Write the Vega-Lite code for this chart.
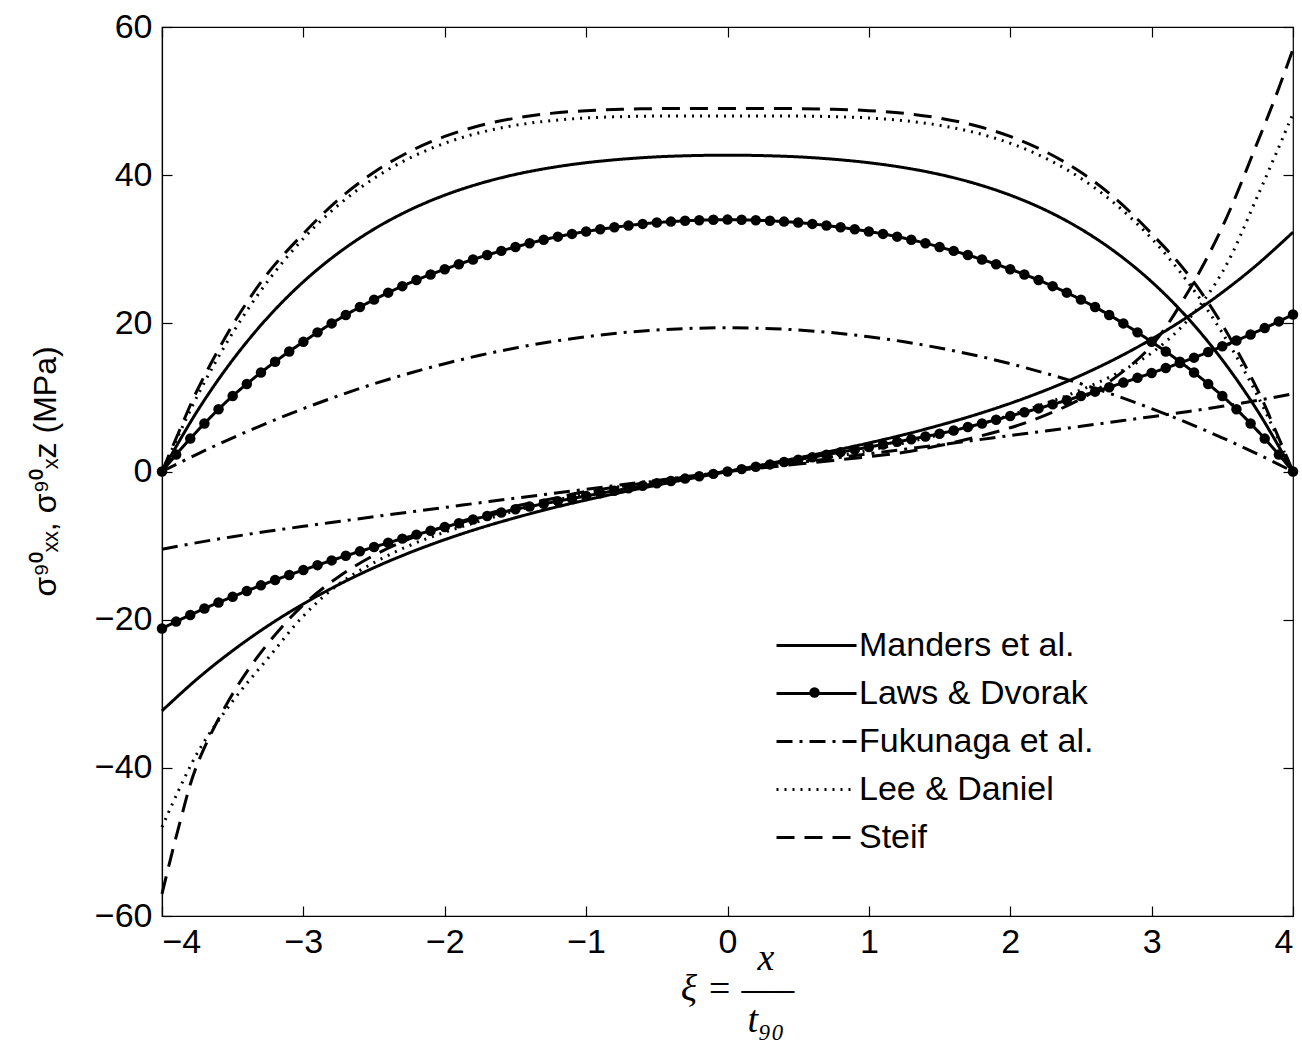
{
"$schema":"https://vega.github.io/schema/vega-lite/v6.json",
"width":1131,"height":889,
"autosize":{"type":"none"},
"padding":{"left":162,"top":27,"right":9,"bottom":132},
"background":"white",
"config":{
 "view":{"stroke":"black","strokeWidth":1.2},
 "axis":{"grid":false,"domainColor":"black","domainWidth":1.2,"tickColor":"black","tickWidth":1.2,"tickSize":-10,"labelColor":"black","titleColor":"black","labelFont":"Liberation Sans","labelFontSize":34,"labelFontWeight":"normal","titleFontWeight":"normal"}
},
"data":{"values":[
{"m":"Manders et al.","c":"xx","x":-4,"y":0},{"m":"Manders et al.","c":"xx","x":-3.75,"y":8.17},{"m":"Manders et al.","c":"xx","x":-3.5,"y":15.06},{"m":"Manders et al.","c":"xx","x":-3.25,"y":20.83},{"m":"Manders et al.","c":"xx","x":-3,"y":25.61},{"m":"Manders et al.","c":"xx","x":-2.75,"y":29.53},{"m":"Manders et al.","c":"xx","x":-2.5,"y":32.72},{"m":"Manders et al.","c":"xx","x":-2.25,"y":35.28},{"m":"Manders et al.","c":"xx","x":-2,"y":37.3},{"m":"Manders et al.","c":"xx","x":-1.75,"y":38.88},{"m":"Manders et al.","c":"xx","x":-1.5,"y":40.1},{"m":"Manders et al.","c":"xx","x":-1.25,"y":41.01},{"m":"Manders et al.","c":"xx","x":-1,"y":41.68},{"m":"Manders et al.","c":"xx","x":-0.75,"y":42.15},{"m":"Manders et al.","c":"xx","x":-0.5,"y":42.47},{"m":"Manders et al.","c":"xx","x":-0.25,"y":42.64},{"m":"Manders et al.","c":"xx","x":0,"y":42.7},{"m":"Manders et al.","c":"xx","x":0.25,"y":42.64},{"m":"Manders et al.","c":"xx","x":0.5,"y":42.47},{"m":"Manders et al.","c":"xx","x":0.75,"y":42.15},{"m":"Manders et al.","c":"xx","x":1,"y":41.68},{"m":"Manders et al.","c":"xx","x":1.25,"y":41.01},{"m":"Manders et al.","c":"xx","x":1.5,"y":40.1},{"m":"Manders et al.","c":"xx","x":1.75,"y":38.88},{"m":"Manders et al.","c":"xx","x":2,"y":37.3},{"m":"Manders et al.","c":"xx","x":2.25,"y":35.28},{"m":"Manders et al.","c":"xx","x":2.5,"y":32.72},{"m":"Manders et al.","c":"xx","x":2.75,"y":29.53},{"m":"Manders et al.","c":"xx","x":3,"y":25.61},{"m":"Manders et al.","c":"xx","x":3.25,"y":20.83},{"m":"Manders et al.","c":"xx","x":3.5,"y":15.06},{"m":"Manders et al.","c":"xx","x":3.75,"y":8.17},{"m":"Manders et al.","c":"xx","x":4,"y":0},
{"m":"Manders et al.","c":"xz","x":-4,"y":-32.3},{"m":"Manders et al.","c":"xz","x":-3.75,"y":-27.98},{"m":"Manders et al.","c":"xz","x":-3.5,"y":-24.18},{"m":"Manders et al.","c":"xz","x":-3.25,"y":-20.82},{"m":"Manders et al.","c":"xz","x":-3,"y":-17.87},{"m":"Manders et al.","c":"xz","x":-2.75,"y":-15.27},{"m":"Manders et al.","c":"xz","x":-2.5,"y":-12.98},{"m":"Manders et al.","c":"xz","x":-2.25,"y":-10.97},{"m":"Manders et al.","c":"xz","x":-2,"y":-9.2},{"m":"Manders et al.","c":"xz","x":-1.75,"y":-7.63},{"m":"Manders et al.","c":"xz","x":-1.5,"y":-6.24},{"m":"Manders et al.","c":"xz","x":-1.25,"y":-4.98},{"m":"Manders et al.","c":"xz","x":-1,"y":-3.85},{"m":"Manders et al.","c":"xz","x":-0.75,"y":-2.81},{"m":"Manders et al.","c":"xz","x":-0.5,"y":-1.84},{"m":"Manders et al.","c":"xz","x":-0.25,"y":-0.91},{"m":"Manders et al.","c":"xz","x":0,"y":0},{"m":"Manders et al.","c":"xz","x":0.25,"y":0.91},{"m":"Manders et al.","c":"xz","x":0.5,"y":1.84},{"m":"Manders et al.","c":"xz","x":0.75,"y":2.81},{"m":"Manders et al.","c":"xz","x":1,"y":3.85},{"m":"Manders et al.","c":"xz","x":1.25,"y":4.98},{"m":"Manders et al.","c":"xz","x":1.5,"y":6.24},{"m":"Manders et al.","c":"xz","x":1.75,"y":7.63},{"m":"Manders et al.","c":"xz","x":2,"y":9.2},{"m":"Manders et al.","c":"xz","x":2.25,"y":10.97},{"m":"Manders et al.","c":"xz","x":2.5,"y":12.98},{"m":"Manders et al.","c":"xz","x":2.75,"y":15.27},{"m":"Manders et al.","c":"xz","x":3,"y":17.87},{"m":"Manders et al.","c":"xz","x":3.25,"y":20.82},{"m":"Manders et al.","c":"xz","x":3.5,"y":24.18},{"m":"Manders et al.","c":"xz","x":3.75,"y":27.98},{"m":"Manders et al.","c":"xz","x":4,"y":32.3},
{"m":"Fukunaga et al.","c":"xx","x":-4,"y":0},{"m":"Fukunaga et al.","c":"xx","x":-3.75,"y":2.35},{"m":"Fukunaga et al.","c":"xx","x":-3.5,"y":4.55},{"m":"Fukunaga et al.","c":"xx","x":-3.25,"y":6.59},{"m":"Fukunaga et al.","c":"xx","x":-3,"y":8.49},{"m":"Fukunaga et al.","c":"xx","x":-2.75,"y":10.23},{"m":"Fukunaga et al.","c":"xx","x":-2.5,"y":11.84},{"m":"Fukunaga et al.","c":"xx","x":-2.25,"y":13.26},{"m":"Fukunaga et al.","c":"xx","x":-2,"y":14.55},{"m":"Fukunaga et al.","c":"xx","x":-1.75,"y":15.69},{"m":"Fukunaga et al.","c":"xx","x":-1.5,"y":16.67},{"m":"Fukunaga et al.","c":"xx","x":-1.25,"y":17.51},{"m":"Fukunaga et al.","c":"xx","x":-1,"y":18.19},{"m":"Fukunaga et al.","c":"xx","x":-0.75,"y":18.72},{"m":"Fukunaga et al.","c":"xx","x":-0.5,"y":19.1},{"m":"Fukunaga et al.","c":"xx","x":-0.25,"y":19.32},{"m":"Fukunaga et al.","c":"xx","x":0,"y":19.4},{"m":"Fukunaga et al.","c":"xx","x":0.25,"y":19.32},{"m":"Fukunaga et al.","c":"xx","x":0.5,"y":19.1},{"m":"Fukunaga et al.","c":"xx","x":0.75,"y":18.72},{"m":"Fukunaga et al.","c":"xx","x":1,"y":18.19},{"m":"Fukunaga et al.","c":"xx","x":1.25,"y":17.51},{"m":"Fukunaga et al.","c":"xx","x":1.5,"y":16.67},{"m":"Fukunaga et al.","c":"xx","x":1.75,"y":15.69},{"m":"Fukunaga et al.","c":"xx","x":2,"y":14.55},{"m":"Fukunaga et al.","c":"xx","x":2.25,"y":13.26},{"m":"Fukunaga et al.","c":"xx","x":2.5,"y":11.84},{"m":"Fukunaga et al.","c":"xx","x":2.75,"y":10.23},{"m":"Fukunaga et al.","c":"xx","x":3,"y":8.49},{"m":"Fukunaga et al.","c":"xx","x":3.25,"y":6.59},{"m":"Fukunaga et al.","c":"xx","x":3.5,"y":4.55},{"m":"Fukunaga et al.","c":"xx","x":3.75,"y":2.35},{"m":"Fukunaga et al.","c":"xx","x":4,"y":0},
{"m":"Fukunaga et al.","c":"xz","x":-4,"y":-10.5},{"m":"Fukunaga et al.","c":"xz","x":-3.75,"y":-9.6},{"m":"Fukunaga et al.","c":"xz","x":-3.5,"y":-8.8},{"m":"Fukunaga et al.","c":"xz","x":-3.25,"y":-8.08},{"m":"Fukunaga et al.","c":"xz","x":-3,"y":-7.4},{"m":"Fukunaga et al.","c":"xz","x":-2.75,"y":-6.75},{"m":"Fukunaga et al.","c":"xz","x":-2.5,"y":-6.1},{"m":"Fukunaga et al.","c":"xz","x":-2.25,"y":-5.47},{"m":"Fukunaga et al.","c":"xz","x":-2,"y":-4.85},{"m":"Fukunaga et al.","c":"xz","x":-1.75,"y":-4.22},{"m":"Fukunaga et al.","c":"xz","x":-1.5,"y":-3.6},{"m":"Fukunaga et al.","c":"xz","x":-1.25,"y":-3.0},{"m":"Fukunaga et al.","c":"xz","x":-1,"y":-2.4},{"m":"Fukunaga et al.","c":"xz","x":-0.75,"y":-1.8},{"m":"Fukunaga et al.","c":"xz","x":-0.5,"y":-1.2},{"m":"Fukunaga et al.","c":"xz","x":-0.25,"y":-0.6},{"m":"Fukunaga et al.","c":"xz","x":0,"y":0},{"m":"Fukunaga et al.","c":"xz","x":0.25,"y":0.6},{"m":"Fukunaga et al.","c":"xz","x":0.5,"y":1.2},{"m":"Fukunaga et al.","c":"xz","x":0.75,"y":1.8},{"m":"Fukunaga et al.","c":"xz","x":1,"y":2.4},{"m":"Fukunaga et al.","c":"xz","x":1.25,"y":3.0},{"m":"Fukunaga et al.","c":"xz","x":1.5,"y":3.6},{"m":"Fukunaga et al.","c":"xz","x":1.75,"y":4.22},{"m":"Fukunaga et al.","c":"xz","x":2,"y":4.85},{"m":"Fukunaga et al.","c":"xz","x":2.25,"y":5.47},{"m":"Fukunaga et al.","c":"xz","x":2.5,"y":6.1},{"m":"Fukunaga et al.","c":"xz","x":2.75,"y":6.75},{"m":"Fukunaga et al.","c":"xz","x":3,"y":7.4},{"m":"Fukunaga et al.","c":"xz","x":3.25,"y":8.08},{"m":"Fukunaga et al.","c":"xz","x":3.5,"y":8.8},{"m":"Fukunaga et al.","c":"xz","x":3.75,"y":9.6},{"m":"Fukunaga et al.","c":"xz","x":4,"y":10.5},
{"m":"Lee & Daniel","c":"xx","x":-4,"y":0},{"m":"Lee & Daniel","c":"xx","x":-3.75,"y":10.2},{"m":"Lee & Daniel","c":"xx","x":-3.5,"y":18.71},{"m":"Lee & Daniel","c":"xx","x":-3.25,"y":25.73},{"m":"Lee & Daniel","c":"xx","x":-3,"y":31.44},{"m":"Lee & Daniel","c":"xx","x":-2.75,"y":36.0},{"m":"Lee & Daniel","c":"xx","x":-2.5,"y":39.57},{"m":"Lee & Daniel","c":"xx","x":-2.25,"y":42.29},{"m":"Lee & Daniel","c":"xx","x":-2,"y":44.31},{"m":"Lee & Daniel","c":"xx","x":-1.75,"y":45.75},{"m":"Lee & Daniel","c":"xx","x":-1.5,"y":46.73},{"m":"Lee & Daniel","c":"xx","x":-1.25,"y":47.35},{"m":"Lee & Daniel","c":"xx","x":-1,"y":47.72},{"m":"Lee & Daniel","c":"xx","x":-0.75,"y":47.9},{"m":"Lee & Daniel","c":"xx","x":-0.5,"y":47.98},{"m":"Lee & Daniel","c":"xx","x":-0.25,"y":48.0},{"m":"Lee & Daniel","c":"xx","x":0,"y":48.0},{"m":"Lee & Daniel","c":"xx","x":0.25,"y":48.0},{"m":"Lee & Daniel","c":"xx","x":0.5,"y":47.98},{"m":"Lee & Daniel","c":"xx","x":0.75,"y":47.9},{"m":"Lee & Daniel","c":"xx","x":1,"y":47.72},{"m":"Lee & Daniel","c":"xx","x":1.25,"y":47.35},{"m":"Lee & Daniel","c":"xx","x":1.5,"y":46.73},{"m":"Lee & Daniel","c":"xx","x":1.75,"y":45.75},{"m":"Lee & Daniel","c":"xx","x":2,"y":44.31},{"m":"Lee & Daniel","c":"xx","x":2.25,"y":42.29},{"m":"Lee & Daniel","c":"xx","x":2.5,"y":39.57},{"m":"Lee & Daniel","c":"xx","x":2.75,"y":36.0},{"m":"Lee & Daniel","c":"xx","x":3,"y":31.44},{"m":"Lee & Daniel","c":"xx","x":3.25,"y":25.73},{"m":"Lee & Daniel","c":"xx","x":3.5,"y":18.71},{"m":"Lee & Daniel","c":"xx","x":3.75,"y":10.2},{"m":"Lee & Daniel","c":"xx","x":4,"y":0},
{"m":"Lee & Daniel","c":"xz","x":-4,"y":-48},{"m":"Lee & Daniel","c":"xz","x":-3.75,"y":-38.0},{"m":"Lee & Daniel","c":"xz","x":-3.5,"y":-31.0},{"m":"Lee & Daniel","c":"xz","x":-3.25,"y":-25.2},{"m":"Lee & Daniel","c":"xz","x":-3,"y":-19.5},{"m":"Lee & Daniel","c":"xz","x":-2.75,"y":-15.2},{"m":"Lee & Daniel","c":"xz","x":-2.5,"y":-12.3},{"m":"Lee & Daniel","c":"xz","x":-2.25,"y":-10.0},{"m":"Lee & Daniel","c":"xz","x":-2,"y":-8.2},{"m":"Lee & Daniel","c":"xz","x":-1.75,"y":-6.7},{"m":"Lee & Daniel","c":"xz","x":-1.5,"y":-5.3},{"m":"Lee & Daniel","c":"xz","x":-1.25,"y":-4.05},{"m":"Lee & Daniel","c":"xz","x":-1,"y":-2.95},{"m":"Lee & Daniel","c":"xz","x":-0.75,"y":-2.0},{"m":"Lee & Daniel","c":"xz","x":-0.5,"y":-1.25},{"m":"Lee & Daniel","c":"xz","x":-0.25,"y":-0.6},{"m":"Lee & Daniel","c":"xz","x":0,"y":0},{"m":"Lee & Daniel","c":"xz","x":0.25,"y":0.6},{"m":"Lee & Daniel","c":"xz","x":0.5,"y":1.25},{"m":"Lee & Daniel","c":"xz","x":0.75,"y":2.0},{"m":"Lee & Daniel","c":"xz","x":1,"y":2.85},{"m":"Lee & Daniel","c":"xz","x":1.25,"y":3.85},{"m":"Lee & Daniel","c":"xz","x":1.5,"y":4.95},{"m":"Lee & Daniel","c":"xz","x":1.75,"y":6.2},{"m":"Lee & Daniel","c":"xz","x":2,"y":7.6},{"m":"Lee & Daniel","c":"xz","x":2.25,"y":9.2},{"m":"Lee & Daniel","c":"xz","x":2.5,"y":11.0},{"m":"Lee & Daniel","c":"xz","x":2.75,"y":13.2},{"m":"Lee & Daniel","c":"xz","x":3,"y":16.0},{"m":"Lee & Daniel","c":"xz","x":3.25,"y":20.3},{"m":"Lee & Daniel","c":"xz","x":3.5,"y":26.9},{"m":"Lee & Daniel","c":"xz","x":3.75,"y":37.2},{"m":"Lee & Daniel","c":"xz","x":4,"y":48.3},
{"m":"Steif","c":"xx","x":-4,"y":0},{"m":"Steif","c":"xx","x":-3.875,"y":5.6},{"m":"Steif","c":"xx","x":-3.75,"y":11.0},{"m":"Steif","c":"xx","x":-3.5,"y":19.8},{"m":"Steif","c":"xx","x":-3.25,"y":26.8},{"m":"Steif","c":"xx","x":-3,"y":32.1},{"m":"Steif","c":"xx","x":-2.75,"y":36.75},{"m":"Steif","c":"xx","x":-2.5,"y":40.39},{"m":"Steif","c":"xx","x":-2.25,"y":43.17},{"m":"Steif","c":"xx","x":-2,"y":45.23},{"m":"Steif","c":"xx","x":-1.75,"y":46.7},{"m":"Steif","c":"xx","x":-1.5,"y":47.7},{"m":"Steif","c":"xx","x":-1.25,"y":48.34},{"m":"Steif","c":"xx","x":-1,"y":48.71},{"m":"Steif","c":"xx","x":-0.75,"y":48.9},{"m":"Steif","c":"xx","x":-0.5,"y":48.98},{"m":"Steif","c":"xx","x":-0.25,"y":49.0},{"m":"Steif","c":"xx","x":0,"y":49.0},{"m":"Steif","c":"xx","x":0.25,"y":49.0},{"m":"Steif","c":"xx","x":0.5,"y":48.98},{"m":"Steif","c":"xx","x":0.75,"y":48.9},{"m":"Steif","c":"xx","x":1,"y":48.71},{"m":"Steif","c":"xx","x":1.25,"y":48.34},{"m":"Steif","c":"xx","x":1.5,"y":47.7},{"m":"Steif","c":"xx","x":1.75,"y":46.7},{"m":"Steif","c":"xx","x":2,"y":45.23},{"m":"Steif","c":"xx","x":2.25,"y":43.17},{"m":"Steif","c":"xx","x":2.5,"y":40.39},{"m":"Steif","c":"xx","x":2.75,"y":36.75},{"m":"Steif","c":"xx","x":3,"y":32.1},{"m":"Steif","c":"xx","x":3.25,"y":26.8},{"m":"Steif","c":"xx","x":3.5,"y":19.8},{"m":"Steif","c":"xx","x":3.75,"y":11.0},{"m":"Steif","c":"xx","x":3.875,"y":5.6},{"m":"Steif","c":"xx","x":4,"y":0},
{"m":"Steif","c":"xz","x":-4,"y":-57},{"m":"Steif","c":"xz","x":-3.875,"y":-47.5},{"m":"Steif","c":"xz","x":-3.75,"y":-39.5},{"m":"Steif","c":"xz","x":-3.5,"y":-30.0},{"m":"Steif","c":"xz","x":-3.25,"y":-23.2},{"m":"Steif","c":"xz","x":-3,"y":-18.0},{"m":"Steif","c":"xz","x":-2.75,"y":-14.2},{"m":"Steif","c":"xz","x":-2.5,"y":-11.3},{"m":"Steif","c":"xz","x":-2.25,"y":-9.1},{"m":"Steif","c":"xz","x":-2,"y":-7.4},{"m":"Steif","c":"xz","x":-1.75,"y":-6.0},{"m":"Steif","c":"xz","x":-1.5,"y":-4.7},{"m":"Steif","c":"xz","x":-1.25,"y":-3.7},{"m":"Steif","c":"xz","x":-1,"y":-2.7},{"m":"Steif","c":"xz","x":-0.75,"y":-2.0},{"m":"Steif","c":"xz","x":-0.5,"y":-1.3},{"m":"Steif","c":"xz","x":-0.25,"y":-0.65},{"m":"Steif","c":"xz","x":0,"y":0},{"m":"Steif","c":"xz","x":0.25,"y":0.5},{"m":"Steif","c":"xz","x":0.5,"y":1.0},{"m":"Steif","c":"xz","x":0.75,"y":1.5},{"m":"Steif","c":"xz","x":1,"y":2.0},{"m":"Steif","c":"xz","x":1.25,"y":2.6},{"m":"Steif","c":"xz","x":1.5,"y":3.5},{"m":"Steif","c":"xz","x":1.75,"y":4.6},{"m":"Steif","c":"xz","x":2,"y":5.9},{"m":"Steif","c":"xz","x":2.25,"y":7.6},{"m":"Steif","c":"xz","x":2.5,"y":9.8},{"m":"Steif","c":"xz","x":2.75,"y":12.8},{"m":"Steif","c":"xz","x":3,"y":17.0},{"m":"Steif","c":"xz","x":3.25,"y":24.0},{"m":"Steif","c":"xz","x":3.5,"y":33.0},{"m":"Steif","c":"xz","x":3.75,"y":44.5},{"m":"Steif","c":"xz","x":3.875,"y":50.5},{"m":"Steif","c":"xz","x":4,"y":57},
{"m":"Laws & Dvorak","c":"xx","x":-4,"y":0},{"m":"Laws & Dvorak","c":"xx","x":-3.9,"y":2.28},{"m":"Laws & Dvorak","c":"xx","x":-3.8,"y":4.44},{"m":"Laws & Dvorak","c":"xx","x":-3.7,"y":6.48},{"m":"Laws & Dvorak","c":"xx","x":-3.6,"y":8.4},{"m":"Laws & Dvorak","c":"xx","x":-3.5,"y":10.2},{"m":"Laws & Dvorak","c":"xx","x":-3.4,"y":11.82},{"m":"Laws & Dvorak","c":"xx","x":-3.3,"y":13.36},{"m":"Laws & Dvorak","c":"xx","x":-3.2,"y":14.82},{"m":"Laws & Dvorak","c":"xx","x":-3.1,"y":16.2},{"m":"Laws & Dvorak","c":"xx","x":-3,"y":17.5},{"m":"Laws & Dvorak","c":"xx","x":-2.9,"y":18.78},{"m":"Laws & Dvorak","c":"xx","x":-2.8,"y":19.99},{"m":"Laws & Dvorak","c":"xx","x":-2.7,"y":21.13},{"m":"Laws & Dvorak","c":"xx","x":-2.6,"y":22.2},{"m":"Laws & Dvorak","c":"xx","x":-2.5,"y":23.2},{"m":"Laws & Dvorak","c":"xx","x":-2.4,"y":24.14},{"m":"Laws & Dvorak","c":"xx","x":-2.3,"y":25.02},{"m":"Laws & Dvorak","c":"xx","x":-2.2,"y":25.84},{"m":"Laws & Dvorak","c":"xx","x":-2.1,"y":26.6},{"m":"Laws & Dvorak","c":"xx","x":-2,"y":27.3},{"m":"Laws & Dvorak","c":"xx","x":-1.9,"y":27.98},{"m":"Laws & Dvorak","c":"xx","x":-1.8,"y":28.62},{"m":"Laws & Dvorak","c":"xx","x":-1.7,"y":29.22},{"m":"Laws & Dvorak","c":"xx","x":-1.6,"y":29.78},{"m":"Laws & Dvorak","c":"xx","x":-1.5,"y":30.3},{"m":"Laws & Dvorak","c":"xx","x":-1.4,"y":30.82},{"m":"Laws & Dvorak","c":"xx","x":-1.3,"y":31.28},{"m":"Laws & Dvorak","c":"xx","x":-1.2,"y":31.7},{"m":"Laws & Dvorak","c":"xx","x":-1.1,"y":32.07},{"m":"Laws & Dvorak","c":"xx","x":-1,"y":32.4},{"m":"Laws & Dvorak","c":"xx","x":-0.9,"y":32.69},{"m":"Laws & Dvorak","c":"xx","x":-0.8,"y":32.96},{"m":"Laws & Dvorak","c":"xx","x":-0.7,"y":33.2},{"m":"Laws & Dvorak","c":"xx","x":-0.6,"y":33.42},{"m":"Laws & Dvorak","c":"xx","x":-0.5,"y":33.6},{"m":"Laws & Dvorak","c":"xx","x":-0.4,"y":33.73},{"m":"Laws & Dvorak","c":"xx","x":-0.3,"y":33.84},{"m":"Laws & Dvorak","c":"xx","x":-0.2,"y":33.92},{"m":"Laws & Dvorak","c":"xx","x":-0.1,"y":33.98},{"m":"Laws & Dvorak","c":"xx","x":0,"y":34.0},{"m":"Laws & Dvorak","c":"xx","x":0.1,"y":33.98},{"m":"Laws & Dvorak","c":"xx","x":0.2,"y":33.92},{"m":"Laws & Dvorak","c":"xx","x":0.3,"y":33.84},{"m":"Laws & Dvorak","c":"xx","x":0.4,"y":33.73},{"m":"Laws & Dvorak","c":"xx","x":0.5,"y":33.6},{"m":"Laws & Dvorak","c":"xx","x":0.6,"y":33.42},{"m":"Laws & Dvorak","c":"xx","x":0.7,"y":33.2},{"m":"Laws & Dvorak","c":"xx","x":0.8,"y":32.96},{"m":"Laws & Dvorak","c":"xx","x":0.9,"y":32.69},{"m":"Laws & Dvorak","c":"xx","x":1,"y":32.4},{"m":"Laws & Dvorak","c":"xx","x":1.1,"y":32.07},{"m":"Laws & Dvorak","c":"xx","x":1.2,"y":31.7},{"m":"Laws & Dvorak","c":"xx","x":1.3,"y":31.28},{"m":"Laws & Dvorak","c":"xx","x":1.4,"y":30.82},{"m":"Laws & Dvorak","c":"xx","x":1.5,"y":30.3},{"m":"Laws & Dvorak","c":"xx","x":1.6,"y":29.78},{"m":"Laws & Dvorak","c":"xx","x":1.7,"y":29.22},{"m":"Laws & Dvorak","c":"xx","x":1.8,"y":28.62},{"m":"Laws & Dvorak","c":"xx","x":1.9,"y":27.98},{"m":"Laws & Dvorak","c":"xx","x":2,"y":27.3},{"m":"Laws & Dvorak","c":"xx","x":2.1,"y":26.6},{"m":"Laws & Dvorak","c":"xx","x":2.2,"y":25.84},{"m":"Laws & Dvorak","c":"xx","x":2.3,"y":25.02},{"m":"Laws & Dvorak","c":"xx","x":2.4,"y":24.14},{"m":"Laws & Dvorak","c":"xx","x":2.5,"y":23.2},{"m":"Laws & Dvorak","c":"xx","x":2.6,"y":22.2},{"m":"Laws & Dvorak","c":"xx","x":2.7,"y":21.13},{"m":"Laws & Dvorak","c":"xx","x":2.8,"y":19.99},{"m":"Laws & Dvorak","c":"xx","x":2.9,"y":18.78},{"m":"Laws & Dvorak","c":"xx","x":3,"y":17.5},{"m":"Laws & Dvorak","c":"xx","x":3.1,"y":16.2},{"m":"Laws & Dvorak","c":"xx","x":3.2,"y":14.82},{"m":"Laws & Dvorak","c":"xx","x":3.3,"y":13.36},{"m":"Laws & Dvorak","c":"xx","x":3.4,"y":11.82},{"m":"Laws & Dvorak","c":"xx","x":3.5,"y":10.2},{"m":"Laws & Dvorak","c":"xx","x":3.6,"y":8.4},{"m":"Laws & Dvorak","c":"xx","x":3.7,"y":6.48},{"m":"Laws & Dvorak","c":"xx","x":3.8,"y":4.44},{"m":"Laws & Dvorak","c":"xx","x":3.9,"y":2.28},{"m":"Laws & Dvorak","c":"xx","x":4,"y":0},
{"m":"Laws & Dvorak","c":"xz","x":-4,"y":-21.2},{"m":"Laws & Dvorak","c":"xz","x":-3.9,"y":-20.26},{"m":"Laws & Dvorak","c":"xz","x":-3.8,"y":-19.36},{"m":"Laws & Dvorak","c":"xz","x":-3.7,"y":-18.5},{"m":"Laws & Dvorak","c":"xz","x":-3.6,"y":-17.68},{"m":"Laws & Dvorak","c":"xz","x":-3.5,"y":-16.9},{"m":"Laws & Dvorak","c":"xz","x":-3.4,"y":-16.12},{"m":"Laws & Dvorak","c":"xz","x":-3.3,"y":-15.37},{"m":"Laws & Dvorak","c":"xz","x":-3.2,"y":-14.65},{"m":"Laws & Dvorak","c":"xz","x":-3.1,"y":-13.96},{"m":"Laws & Dvorak","c":"xz","x":-3,"y":-13.3},{"m":"Laws & Dvorak","c":"xz","x":-2.9,"y":-12.64},{"m":"Laws & Dvorak","c":"xz","x":-2.8,"y":-12.0},{"m":"Laws & Dvorak","c":"xz","x":-2.7,"y":-11.38},{"m":"Laws & Dvorak","c":"xz","x":-2.6,"y":-10.78},{"m":"Laws & Dvorak","c":"xz","x":-2.5,"y":-10.2},{"m":"Laws & Dvorak","c":"xz","x":-2.4,"y":-9.62},{"m":"Laws & Dvorak","c":"xz","x":-2.3,"y":-9.06},{"m":"Laws & Dvorak","c":"xz","x":-2.2,"y":-8.52},{"m":"Laws & Dvorak","c":"xz","x":-2.1,"y":-8.0},{"m":"Laws & Dvorak","c":"xz","x":-2,"y":-7.5},{"m":"Laws & Dvorak","c":"xz","x":-1.9,"y":-6.98},{"m":"Laws & Dvorak","c":"xz","x":-1.8,"y":-6.48},{"m":"Laws & Dvorak","c":"xz","x":-1.7,"y":-6.0},{"m":"Laws & Dvorak","c":"xz","x":-1.6,"y":-5.54},{"m":"Laws & Dvorak","c":"xz","x":-1.5,"y":-5.1},{"m":"Laws & Dvorak","c":"xz","x":-1.4,"y":-4.73},{"m":"Laws & Dvorak","c":"xz","x":-1.3,"y":-4.36},{"m":"Laws & Dvorak","c":"xz","x":-1.2,"y":-4.0},{"m":"Laws & Dvorak","c":"xz","x":-1.1,"y":-3.65},{"m":"Laws & Dvorak","c":"xz","x":-1,"y":-3.3},{"m":"Laws & Dvorak","c":"xz","x":-0.9,"y":-2.95},{"m":"Laws & Dvorak","c":"xz","x":-0.8,"y":-2.61},{"m":"Laws & Dvorak","c":"xz","x":-0.7,"y":-2.27},{"m":"Laws & Dvorak","c":"xz","x":-0.6,"y":-1.93},{"m":"Laws & Dvorak","c":"xz","x":-0.5,"y":-1.6},{"m":"Laws & Dvorak","c":"xz","x":-0.4,"y":-1.28},{"m":"Laws & Dvorak","c":"xz","x":-0.3,"y":-0.96},{"m":"Laws & Dvorak","c":"xz","x":-0.2,"y":-0.64},{"m":"Laws & Dvorak","c":"xz","x":-0.1,"y":-0.32},{"m":"Laws & Dvorak","c":"xz","x":0,"y":0},{"m":"Laws & Dvorak","c":"xz","x":0.1,"y":0.32},{"m":"Laws & Dvorak","c":"xz","x":0.2,"y":0.64},{"m":"Laws & Dvorak","c":"xz","x":0.3,"y":0.96},{"m":"Laws & Dvorak","c":"xz","x":0.4,"y":1.28},{"m":"Laws & Dvorak","c":"xz","x":0.5,"y":1.6},{"m":"Laws & Dvorak","c":"xz","x":0.6,"y":1.93},{"m":"Laws & Dvorak","c":"xz","x":0.7,"y":2.27},{"m":"Laws & Dvorak","c":"xz","x":0.8,"y":2.61},{"m":"Laws & Dvorak","c":"xz","x":0.9,"y":2.95},{"m":"Laws & Dvorak","c":"xz","x":1,"y":3.3},{"m":"Laws & Dvorak","c":"xz","x":1.1,"y":3.65},{"m":"Laws & Dvorak","c":"xz","x":1.2,"y":4.0},{"m":"Laws & Dvorak","c":"xz","x":1.3,"y":4.36},{"m":"Laws & Dvorak","c":"xz","x":1.4,"y":4.73},{"m":"Laws & Dvorak","c":"xz","x":1.5,"y":5.1},{"m":"Laws & Dvorak","c":"xz","x":1.6,"y":5.54},{"m":"Laws & Dvorak","c":"xz","x":1.7,"y":6.0},{"m":"Laws & Dvorak","c":"xz","x":1.8,"y":6.48},{"m":"Laws & Dvorak","c":"xz","x":1.9,"y":6.98},{"m":"Laws & Dvorak","c":"xz","x":2,"y":7.5},{"m":"Laws & Dvorak","c":"xz","x":2.1,"y":8.0},{"m":"Laws & Dvorak","c":"xz","x":2.2,"y":8.52},{"m":"Laws & Dvorak","c":"xz","x":2.3,"y":9.06},{"m":"Laws & Dvorak","c":"xz","x":2.4,"y":9.62},{"m":"Laws & Dvorak","c":"xz","x":2.5,"y":10.2},{"m":"Laws & Dvorak","c":"xz","x":2.6,"y":10.78},{"m":"Laws & Dvorak","c":"xz","x":2.7,"y":11.38},{"m":"Laws & Dvorak","c":"xz","x":2.8,"y":12.0},{"m":"Laws & Dvorak","c":"xz","x":2.9,"y":12.64},{"m":"Laws & Dvorak","c":"xz","x":3,"y":13.3},{"m":"Laws & Dvorak","c":"xz","x":3.1,"y":13.96},{"m":"Laws & Dvorak","c":"xz","x":3.2,"y":14.65},{"m":"Laws & Dvorak","c":"xz","x":3.3,"y":15.37},{"m":"Laws & Dvorak","c":"xz","x":3.4,"y":16.12},{"m":"Laws & Dvorak","c":"xz","x":3.5,"y":16.9},{"m":"Laws & Dvorak","c":"xz","x":3.6,"y":17.68},{"m":"Laws & Dvorak","c":"xz","x":3.7,"y":18.5},{"m":"Laws & Dvorak","c":"xz","x":3.8,"y":19.36},{"m":"Laws & Dvorak","c":"xz","x":3.9,"y":20.26},{"m":"Laws & Dvorak","c":"xz","x":4,"y":21.2}
]},
"layer":[
 {"mark":{"type":"line","interpolate":"catmull-rom","color":"black","strokeCap":"butt"},
  "encoding":{
   "x":{"field":"x","type":"quantitative","scale":{"domain":[-4,4],"nice":false,"zero":false},
        "axis":{"orient":"bottom","values":[-4,-3,-2,-1,0,1,2,3,4],"labelPadding":19,
                "title":["\u200b\u00a0\u00a0\u00a0\u00a0\u00a0\u00a0x","ξ = —–","\u200b\u00a0\u00a0\u00a0\u00a0\u00a0\u00a0t₉₀"],
                "titleFont":"Liberation Serif","titleFontStyle":"italic","titleFontSize":38,"titleLineHeight":31,
                "titleBaseline":"alphabetic","titleY":53,"titleX":575,"titleAlign":"center"}},
   "y":{"field":"y","type":"quantitative","scale":{"domain":[-60,60],"nice":false,"zero":false},
        "axis":{"orient":"left","values":[-60,-40,-20,0,20,40,60],"labelPadding":20,
                "title":"σ⁹⁰ₓₓ, σ⁹⁰ₓᴢ (MPa)","titleFont":"Liberation Sans","titleFontSize":32,
                "titleAngle":-90,"titleX":-117,"titleY":444,"titleAlign":"center","titleBaseline":"middle"}},
   "strokeDash":{"field":"m","type":"nominal",
     "scale":{"domain":["Manders et al.","Laws & Dvorak","Fukunaga et al.","Lee & Daniel","Steif"],
              "range":[[1,0],[1,0],[16,7,3,7],[2,6],[18,10]]},
     "legend":{"orient":"none","legendX":637.5,"legendY":601.5,"title":null,"padding":0,
               "symbolType":"M-3,0H3","symbolSize":711,"symbolStrokeColor":"black","symbolFillColor":"transparent","symbolStrokeWidth":3,
               "labelFont":"Liberation Sans","labelFontSize":34,"labelColor":"black","labelOffset":25.5,"labelLimit":500,"rowPadding":14}},
   "strokeWidth":{"field":"m","type":"nominal",
     "scale":{"domain":["Manders et al.","Laws & Dvorak","Fukunaga et al.","Lee & Daniel","Steif"],"range":[3,3,2.6,1.8,3.2]},
     "legend":null},
   "detail":{"field":"c"}
  }},
 {"transform":[{"filter":"datum.m === 'Laws & Dvorak'"}],
  "mark":{"type":"point","filled":true,"color":"black","size":110,"opacity":1},
  "encoding":{
   "x":{"field":"x","type":"quantitative","axis":{"orient":"top","values":[-4,-3,-2,-1,0,1,2,3,4],"labels":false,"title":null,"domain":false}},
   "y":{"field":"y","type":"quantitative","axis":{"orient":"right","values":[-60,-40,-20,0,20,40,60],"labels":false,"title":null,"domain":false}},
   "shape":{"field":"m","type":"nominal","scale":{"domain":["Laws & Dvorak"],"range":["circle"]},
     "legend":{"orient":"none","legendX":647,"legendY":660,"title":null,"padding":0,"symbolSize":110,
               "symbolFillColor":"black","symbolStrokeColor":"black","symbolStrokeWidth":0,"labelOpacity":0,"labelFontSize":1}}
  }}
],
"resolve":{"axis":{"x":"independent","y":"independent"}}
}
